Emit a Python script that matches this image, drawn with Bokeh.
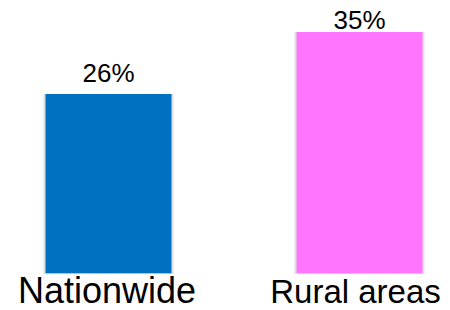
from bokeh.plotting import figure
from bokeh.models import ColumnDataSource, Range1d
from bokeh.core.properties import value
from bokeh.embed import file_html
from bokeh.resources import INLINE

# ---- data ----
categories = ["Nationwide", "Rural areas"]
shares = [26, 35]
bar_colors = ["#0070C0", "#FF75FF"]

# ---- styling / layout helpers (not data) ----
pct_labels = [f"{v}%" for v in shares]
pct_dy = [-20.7, -11.7]
cat_dy = [17.5, 17.9]
cat_dx = [-1.5, -4]
cat_sizes = ["36px", "33px"]

xs = list(range(len(categories)))
src = ColumnDataSource(dict(
    x=xs, top=shares, color=bar_colors, cat=categories,
    pct=pct_labels, pct_dy=pct_dy, cat_dy=cat_dy, cat_dx=cat_dx,
    cat_size=cat_sizes, zero=[0] * len(xs),
))

p = figure(width=450, height=310, output_backend="svg", toolbar_location=None,
           x_range=Range1d(-0.4303, 1.3625), y_range=Range1d(-5.414, 39.585),
           x_axis_location=None, y_axis_location=None, min_border=0,
           outline_line_color=None, background_fill_color="white",
           border_fill_color="white")
p.grid.visible = False

# soft shadow
p.vbar(x="x", top="top", bottom=-0.15, width=0.525, source=src,
       fill_color="#000000", fill_alpha=0.05, line_color=None)
p.vbar(x="x", top="top", bottom=-0.1, width=0.515, source=src,
       fill_color="#000000", fill_alpha=0.07, line_color=None)
# bars
p.vbar(x="x", top="top", bottom=0, width=0.502, source=src,
       fill_color="color", line_color=None)

# value labels
p.text(x="x", y="top", text="pct", source=src, y_offset="pct_dy",
       text_align="center", text_baseline="alphabetic",
       text_font=value("Liberation Sans"), text_font_size="26px",
       text_color="#000000")

# category labels
p.text(x="x", y="zero", text="cat", source=src, y_offset="cat_dy",
       x_offset="cat_dx", text_align="center", text_baseline="alphabetic",
       text_font=value("Liberation Sans"), text_font_size="cat_size",
       text_color="#000000")

open("out.html", "w").write(file_html(p, INLINE))
